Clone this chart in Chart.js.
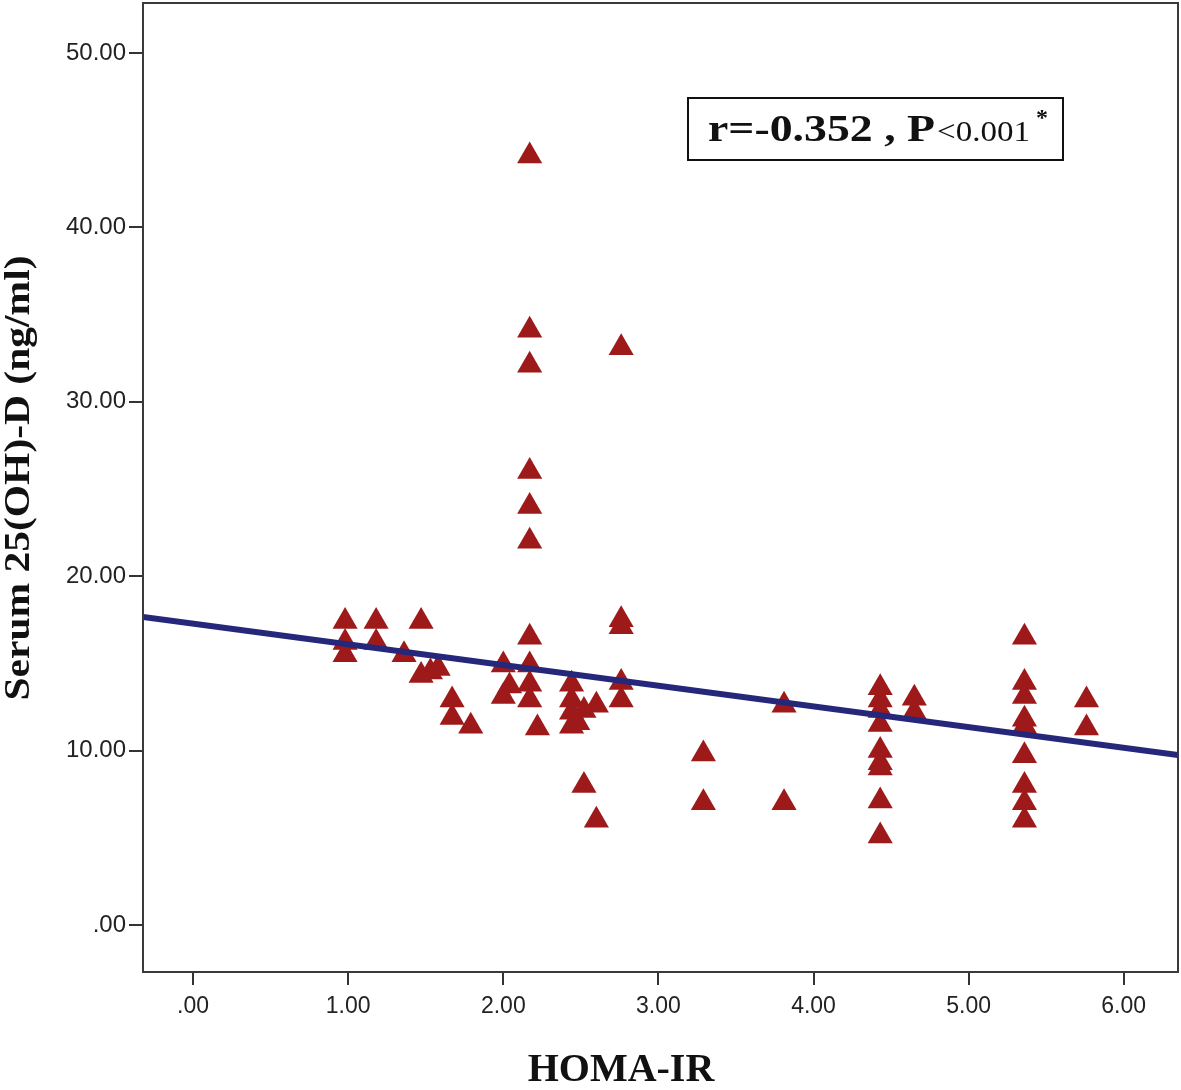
<!DOCTYPE html>
<html>
<head>
<meta charset="utf-8">
<script src="https://cdn.jsdelivr.net/npm/chart.js@4.4.1/dist/chart.umd.min.js"></script>
<style>
  html, body { margin: 0; padding: 0; background: #ffffff; }
  #wrap { width: 1181px; height: 1090px; position: relative; }
</style>
</head>
<body>
<div id="wrap"><canvas id="c" width="1181" height="1090"></canvas></div>
<script>
// ---- data ----
const homaIR = [
  0.98, 0.98, 0.98,
  1.18, 1.18,
  1.36,
  1.47, 1.47,
  1.53, 1.58,
  1.67, 1.67,
  1.79,
  2.00, 2.00,
  2.04,
  2.17, 2.17, 2.17, 2.17, 2.17, 2.17, 2.17, 2.17, 2.17, 2.17,
  2.22,
  2.44, 2.44, 2.44, 2.44,
  2.48,
  2.52, 2.52,
  2.60, 2.60,
  2.76, 2.76, 2.76, 2.76, 2.76,
  3.29, 3.29,
  3.81, 3.81,
  4.43, 4.43, 4.43, 4.43, 4.43, 4.43, 4.43, 4.43, 4.43,
  4.65, 4.65,
  5.36, 5.36, 5.36, 5.36, 5.36, 5.36, 5.36, 5.36, 5.36,
  5.76, 5.76
];
const vitaminD = [
  17.4, 16.2, 15.5,
  17.4, 16.2,
  15.5,
  17.4, 14.3,
  14.5, 14.7,
  12.9, 11.9,
  11.4,
  14.9, 13.1,
  13.7,
  44.1, 34.1, 32.1, 26.0, 24.0, 22.0, 16.5, 14.9, 13.8, 12.9,
  11.3,
  13.8, 12.9, 12.2, 11.4,
  11.6,
  12.3, 8.0,
  12.6, 6.0,
  33.1, 17.5, 17.1, 13.9, 12.9,
  9.8, 7.0,
  12.6, 7.0,
  13.6, 12.9, 12.3, 11.5, 10.0, 9.3, 9.0, 7.1, 5.1,
  13.0, 12.2,
  16.5, 13.9, 13.1, 11.8, 11.4, 9.7, 8.0, 7.0, 6.0,
  12.9, 11.3
];
// fit line end points (at the plot edges)
const fitX = [-0.323, 6.35];
const fitY = [17.66, 9.75];

const xTicks = [0, 1, 2, 3, 4, 5, 6];
const yTicks = [0, 10, 20, 30, 40, 50];
const xTitle = 'HOMA-IR';
const yTitle = 'Serum 25(OH)-D (ng/ml)';
const statText = ['r=-0.352 , P', '<0.001', '*'];

// ---- build chart ----
const points = homaIR.map((x, i) => ({ x: x, y: vitaminD[i] }));
const fitLine = fitX.map((x, i) => ({ x: x, y: fitY[i] }));

const fmt = v => (v === 0 ? '.00' : v.toFixed(2));

function fitText(ctx, txt, x, y, targetW) {
  const w = ctx.measureText(txt).width;
  ctx.save();
  ctx.translate(x, y);
  ctx.scale(targetW / w, 1);
  ctx.fillText(txt, 0, 0);
  ctx.restore();
}

const framePlugin = {
  id: 'frame',
  afterDraw(chart) {
    const { ctx, chartArea: a } = chart;
    ctx.save();
    ctx.strokeStyle = '#3a3a3a';
    ctx.lineWidth = 2;
    ctx.strokeRect(a.left, a.top, a.right - a.left, a.bottom - a.top);

    // axis titles
    ctx.fillStyle = '#111';
    ctx.textAlign = 'center';
    ctx.textBaseline = 'middle';
    ctx.font = 'bold 40px "Liberation Serif", "Times New Roman", serif';
    ctx.fillText(xTitle, 621, 1071);

    ctx.save();
    ctx.translate(20, 478);
    ctx.rotate(-Math.PI / 2);
    ctx.font = 'bold 36px "Liberation Serif", "Times New Roman", serif';
    const w = ctx.measureText(yTitle).width;
    ctx.scale(445 / w, 1);
    ctx.fillText(yTitle, 0, 0);
    ctx.restore();

    // statistic box
    const bx = 688, by = 98, bw = 375, bh = 62;
    ctx.fillStyle = '#fff';
    ctx.fillRect(bx, by, bw, bh);
    ctx.strokeStyle = '#111';
    ctx.lineWidth = 2;
    ctx.strokeRect(bx, by, bw, bh);
    ctx.fillStyle = '#111';
    ctx.textAlign = 'left';
    ctx.textBaseline = 'alphabetic';
    const base = 141;
    ctx.font = 'bold 38px "Liberation Serif", "Times New Roman", serif';
    fitText(ctx, statText[0], 708, base, 227);
    ctx.font = '30px "Liberation Serif", "Times New Roman", serif';
    fitText(ctx, statText[1], 937, base, 93);
    ctx.font = 'bold 24px "Liberation Serif", "Times New Roman", serif';
    ctx.fillText(statText[2], 1036, base - 16);
    ctx.restore();
  }
};

new Chart(document.getElementById('c'), {
  type: 'scatter',
  data: {
    datasets: [
      {
        type: 'line',
        data: fitLine,
        borderColor: '#25277a',
        borderWidth: 6,
        pointRadius: 0,
        showLine: true,
        fill: false,
        order: 0
      },
      {
        type: 'scatter',
        data: points,
        pointStyle: 'triangle',
        pointRadius: 14.5,
        pointBackgroundColor: '#9e1a1a',
        pointBorderColor: '#9e1a1a',
        pointBorderWidth: 0,
        order: 1
      }
    ]
  },
  options: {
    responsive: false,
    animation: false,
    devicePixelRatio: 1,
    layout: { autoPadding: false, padding: { top: 3, right: 3, left: 0, bottom: 0 } },
    plugins: { legend: { display: false }, tooltip: { enabled: false } },
    scales: {
      x: {
        type: 'linear',
        min: -0.323,
        max: 6.35,
        afterBuildTicks: s => { s.ticks = xTicks.map(v => ({ value: v })); },
        afterFit: s => { s.height = 118; s.paddingLeft = 0; s.paddingRight = 0; },
        grid: { display: true, drawOnChartArea: false, drawTicks: true, tickLength: 13, color: '#333', lineWidth: 2 },
        border: { display: true, color: '#333', width: 2 },
        ticks: {
          callback: v => fmt(v),
          color: '#222',
          padding: 8,
          maxRotation: 0,
          font: { family: '"Liberation Sans", Arial, sans-serif', size: 23 }
        }
      },
      y: {
        type: 'linear',
        min: -2.7,
        max: 52.87,
        afterBuildTicks: s => { s.ticks = yTicks.map(v => ({ value: v })); },
        afterFit: s => { s.width = 143; s.paddingTop = 0; s.paddingBottom = 0; },
        grid: { display: true, drawOnChartArea: false, drawTicks: true, tickLength: 14, color: '#333', lineWidth: 2 },
        border: { display: true, color: '#333', width: 2 },
        ticks: {
          callback: v => fmt(v),
          color: '#222',
          padding: 3,
          font: { family: '"Liberation Sans", Arial, sans-serif', size: 24 }
        }
      }
    }
  },
  plugins: [framePlugin]
});
</script>
</body>
</html>
